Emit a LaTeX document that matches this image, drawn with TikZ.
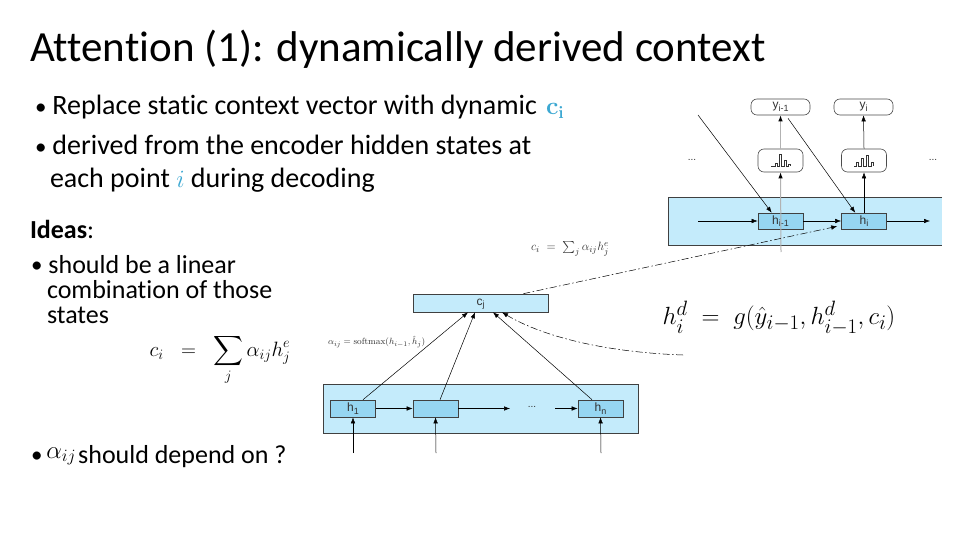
\documentclass[tikz,border=0pt]{standalone}
\usepackage{amsmath}
\usepackage[no-math]{fontspec}
\setmainfont[Ligatures=NoCommon]{Carlito}
\newfontfamily\diagfont{Liberation Sans}
\usetikzlibrary{arrows.meta}
\definecolor{bandblue}{RGB}{196,235,251}
\definecolor{boxblue}{RGB}{150,214,242}
\definecolor{cblue}{RGB}{60,168,210}
\definecolor{labgray}{RGB}{50,50,50}
\newcommand\lsub[1]{\raisebox{-0.4ex}{\fontsize{9}{9}\selectfont #1}}
\newcommand\mybul{\raisebox{0.5pt}{\fontsize{23}{23}\selectfont\textbullet}\hspace{6pt}}
\begin{document}
\begin{tikzpicture}[x=1pt,y=-1pt,
  txt/.style={anchor=base west,inner sep=0pt,outer sep=0pt},
  bodytext/.style={txt,font=\fontsize{28}{30}\selectfont},
  idtext/.style={txt,font=\fontsize{26}{28}\selectfont},
  hbox/.style={draw=black!75,fill=boxblue,minimum width=45pt,minimum height=16pt,inner sep=0pt,
     font=\diagfont\fontsize{12}{12}\selectfont,text=labgray,line width=0.6pt},
  ybox/.style={draw=black!70,fill=white,rounded corners=6pt,minimum width=59pt,minimum height=16pt,
     inner sep=0pt,font=\diagfont\fontsize{12}{12}\selectfont,text=labgray,line width=0.6pt},
  smbox/.style={draw=black!70,fill=white,rounded corners=6pt,minimum width=45pt,minimum height=23pt,
     inner sep=0pt,line width=0.6pt},
  band/.style={fill=bandblue,draw=black!75,line width=0.6pt},
  arr/.style={-{Latex[length=6pt,width=4.5pt]},line width=0.5pt},
  grayarr/.style={-{Latex[length=6pt,width=4.5pt,color=black]},draw=black!30,line width=1pt},
  dd/.style={-{Latex[length=6pt,width=4.5pt]},line width=0.5pt,dash pattern=on 7pt off 2.5pt on 1.5pt off 2.5pt},
  dots/.style={inner sep=0pt,font=\diagfont\fontsize{10}{10}\selectfont,text=labgray}
]
\useasboundingbox (0,0) rectangle (960,540);
\fill[white] (0,0) rectangle (960,540);

% ---------- Title and text ----------
\node[txt,font=\fontsize{43}{46}\selectfont] (title) at (30,62) {Attention (1): dynamically derived context};
\node[bodytext] (b1) at (35,115) {\mybul Replace static context vector with dynamic};
\node[txt] (ci) at (546,115) {\fontsize{23}{24}\selectfont\textcolor{cblue}{$\mathbf{c}_{\mathbf{i}}$}};
\node[bodytext] (b2) at (35,155) {\mybul derived from the encoder hidden states at};
\node[bodytext] (b2b) at (50,187) {each point \textcolor{cblue}{$i$} during decoding};
\node[idtext] (ideas) at (30,238) {\textbf{Ideas}:};
\node[idtext] (i1) at (31,273) {\mybul should be a linear};
\node[idtext] (i1b) at (47,298) {combination of those};
\node[idtext] (i1c) at (47,323) {states};
\node[inner sep=0pt,font=\fontsize{22}{26}\selectfont] (form1) at (220,360) {$c_i \;\;=\;\; \displaystyle\sum_j \alpha_{ij} h^e_j$};
\node[idtext] (i2) at (31,463) {\mybul\hspace{-2pt}\raisebox{5pt}{\fontsize{23}{24}\selectfont$\alpha_{ij}$}\hspace{2pt}should depend on ?};

% ---------- Encoder ----------
\draw[band] (323,384) rectangle (638,433);
\node[hbox,minimum height=17pt] (h1) at (353,408.5) {h\lsub{1}};
\node[hbox,minimum height=17pt] (hm) at (435.5,408.5) {};
\node[hbox,minimum height=17pt] (hn) at (600.5,408.5) {h\lsub{n}};
\node[dots] (edots) at (532,407) {...};
\coordinate (e1) at (510,408.5);
\coordinate (e2) at (555,408.5);
\draw[arr] (h1.east) -- (hm.west);
\draw[arr] (hm.east) -- (e1);
\draw[arr] (e2) -- (hn.west);
\coordinate (in1) at (353,453);
\coordinate (in2) at (436,453);
\coordinate (in3) at (601,453);
\draw[arr] (in1) -- (h1.south);
\draw[arr] (in2) -- (hm.south);
\draw[arr] (in3) -- (hn.south);

% ---------- context box ----------
\node[hbox,fill=bandblue,minimum width=135pt,minimum height=18pt,text depth=0pt] (cj) at (480.5,303) {\raisebox{2pt}{c\lsub{j}}};
\draw[arr] ([xshift=10pt]h1.north) -- ([xshift=-12.5pt]cj.south);
\draw[arr] ([xshift=4.5pt]hm.north) -- ([xshift=-5.5pt]cj.south);
\draw[arr] ([xshift=-8.5pt]hn.north) -- ([xshift=12.5pt]cj.south);
\node[anchor=west,inner sep=0pt,font=\fontsize{9.5}{10}\selectfont,text=labgray] (soft) at (328,342) {$\alpha_{ij} = \mathrm{softmax}(h_{i-1}, \hat{h}_j)$};

% ---------- Decoder ----------
\fill[bandblue] (668,197) rectangle (942,245);
\draw[black!75,line width=0.6pt] (942,197) -- (668,197) -- (668,245) -- (942,245);
\node[hbox] (hp) at (780.5,221) {h\lsub{i-1}};
\node[hbox] (hc) at (864,221) {h\lsub{i}};
\node[ybox] (yp) at (780.5,107) {y\lsub{i-1}};
\node[ybox] (yc) at (863.5,107) {y\lsub{i}};
\node[smbox] (s1) at (780.5,160.5) {};
\node[smbox] (s2) at (864,160.5) {};
\draw[line width=0.5pt,black!80] (771,166) -- (775,166) -- (775,163) -- (777,163) -- (777,166) -- (779,166) -- (779,154) -- (781,154) -- (781,166) -- (784,166) -- (784,160) -- (786,160) -- (786,166) -- (788,166) -- (788,164) -- (790,164) -- (790,166);
\draw[line width=0.5pt,black!80] (854,166) -- (856,166) -- (856,162) -- (858,162) -- (858,166) -- (861,166) -- (861,158) -- (863,158) -- (863,166) -- (866,166) -- (866,155) -- (868,155) -- (868,166) -- (871,166) -- (871,162) -- (873,162) -- (873,166);
\node[dots] (dl) at (692,160) {...};
\node[dots] (dr) at (933,160) {...};
\coordinate (din) at (698,221);
\coordinate (dout) at (930,221);
\draw[arr] (din) -- (hp.west);
\draw[arr] (hp.east) -- (hc.west);
\draw[arr] (hc.east) -- (dout);
\coordinate (gbot) at (781,252);
\draw[grayarr] (gbot) -- (s1.south);
\draw[grayarr] (s1.north) -- (yp.south);
\draw[arr] (hc.north) -- (s2.south);
\draw[arr] (s2.north) -- (yc.south);
\coordinate (dstart) at (698,115);
\draw[arr] (dstart) -- ([xshift=14pt]hp.north west);
\draw[arr] ([xshift=7.5pt,yshift=-3pt]yp.south) -- ([xshift=14pt]hc.north west);

% dashed connections
\draw[dd] ([xshift=-25pt]cj.north east) -- ([xshift=-4pt,yshift=3pt]hc.south west);
\coordinate (cstart) at (683,355);
\draw[dd] (cstart) .. controls (600,352) and (540,335) .. ([xshift=21.5pt]cj.south);

% formulas
\node[inner sep=0pt,font=\fontsize{12.5}{14}\selectfont,text=labgray] (form2) at (570,249) {$c_i \;=\; \sum_j \alpha_{ij} h^e_j$};
\node[inner sep=0pt,font=\fontsize{27.5}{30}\selectfont] (form3) at (779,318) {$h^d_i \;=\; g(\hat{y}_{i-1}, h^d_{i-1}, c_i)$};
\end{tikzpicture}
\end{document}
